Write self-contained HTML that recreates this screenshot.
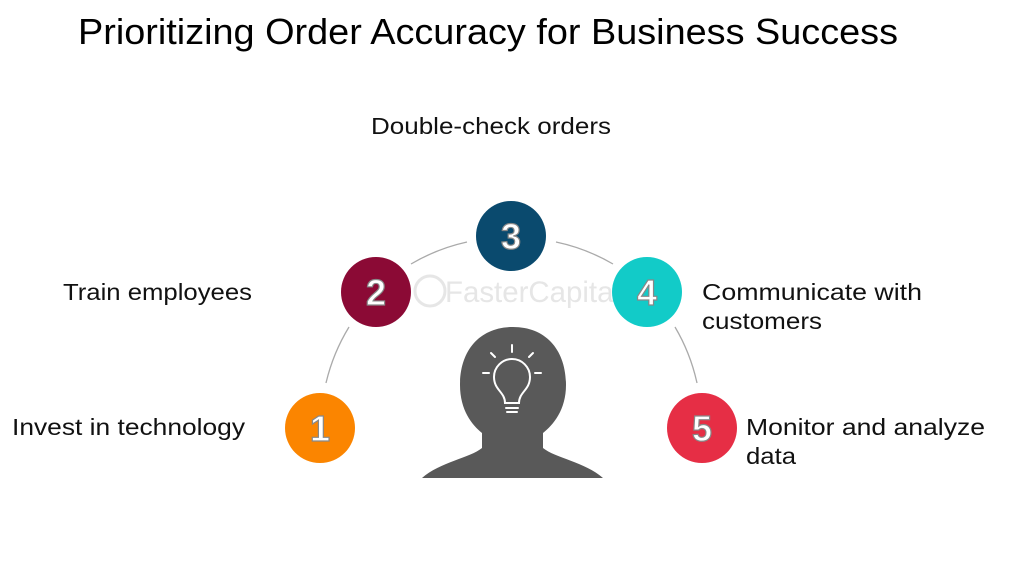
<!DOCTYPE html>
<html><head><meta charset="utf-8"><style>
html,body{margin:0;padding:0;background:#fff;}
svg{display:block}
</style></head><body>
<svg width="1024" height="576" viewBox="0 0 1024 576" xmlns="http://www.w3.org/2000/svg">
<rect width="1024" height="576" fill="#fff"/>
<text x="78" y="44" font-family="Liberation Sans, sans-serif" font-size="36" fill="#000" textLength="820" lengthAdjust="spacingAndGlyphs">Prioritizing Order Accuracy for Business Success</text>
<g font-family="Liberation Sans, sans-serif" font-size="23" fill="#111">
<text x="371" y="134" textLength="240" lengthAdjust="spacingAndGlyphs">Double-check orders</text>
<text x="63" y="300" textLength="189" lengthAdjust="spacingAndGlyphs">Train employees</text>
<text x="12" y="435" textLength="233" lengthAdjust="spacingAndGlyphs">Invest in technology</text>
<text x="702" y="300" textLength="220" lengthAdjust="spacingAndGlyphs">Communicate with</text>
<text x="702" y="329" textLength="120" lengthAdjust="spacingAndGlyphs">customers</text>
<text x="746" y="435" textLength="239" lengthAdjust="spacingAndGlyphs">Monitor and analyze</text>
<text x="746" y="464" textLength="50" lengthAdjust="spacingAndGlyphs">data</text>
</g>
<!-- arc segments -->
<g fill="none" stroke="#aaa" stroke-width="1.3">
<path d="M326 383 A191 191 0 0 1 349 327"/>
<path d="M411 264 A191 191 0 0 1 467 242"/>
<path d="M556 242 A191 191 0 0 1 613 264"/>
<path d="M675 327 A191 191 0 0 1 697 383"/>
</g>
<!-- watermark -->
<text x="445" y="302" font-family="Liberation Sans, sans-serif" font-size="30" fill="#e6e6e6" textLength="175" lengthAdjust="spacingAndGlyphs">FasterCapital</text>
<circle cx="430" cy="291" r="15" fill="none" stroke="#e6e6e6" stroke-width="3"/>
<!-- head -->
<path d="M513 327 C480 327 460 350 460 385 C460 410 472 425 482 433 L482 448 C470 458 440 462 422 478 L603 478 C585 462 555 458 543 448 L543 433 C553 425 566 410 566 385 C566 350 546 327 513 327 Z" fill="#595959"/>
<g stroke="#fff" stroke-width="2" fill="none" stroke-linecap="round">
<path d="M505 403 C505 392 494 390 494 377 A18 18 0 0 1 530 377 C530 390 519 392 519 403 Z"/>
<line x1="506" y1="408" x2="518" y2="408"/><line x1="507" y1="412" x2="517" y2="412"/>
<line x1="512" y1="345" x2="512" y2="352"/>
<line x1="491" y1="353" x2="495" y2="357"/><line x1="533" y1="353" x2="529" y2="357"/>
<line x1="483" y1="373" x2="489" y2="373"/><line x1="535" y1="373" x2="541" y2="373"/>
</g>
<!-- circles -->
<g font-family="Liberation Sans, sans-serif" font-weight="bold" font-size="36" text-anchor="middle" fill="#fff" stroke="#888" stroke-width="1.2">
<circle cx="320" cy="428" r="35" fill="#fb8500" stroke="none"/><text x="320" y="441">1</text>
<circle cx="376" cy="292" r="35" fill="#8b0a35" stroke="none"/><text x="376" y="305">2</text>
<circle cx="511" cy="236" r="35" fill="#0a4a6e" stroke="none"/><text x="511" y="249">3</text>
<circle cx="647" cy="292" r="35" fill="#12cbc8" stroke="none"/><text x="647" y="305">4</text>
<circle cx="702" cy="428" r="35" fill="#e62e45" stroke="none"/><text x="702" y="441">5</text>
</g>
</svg>
</body></html>
